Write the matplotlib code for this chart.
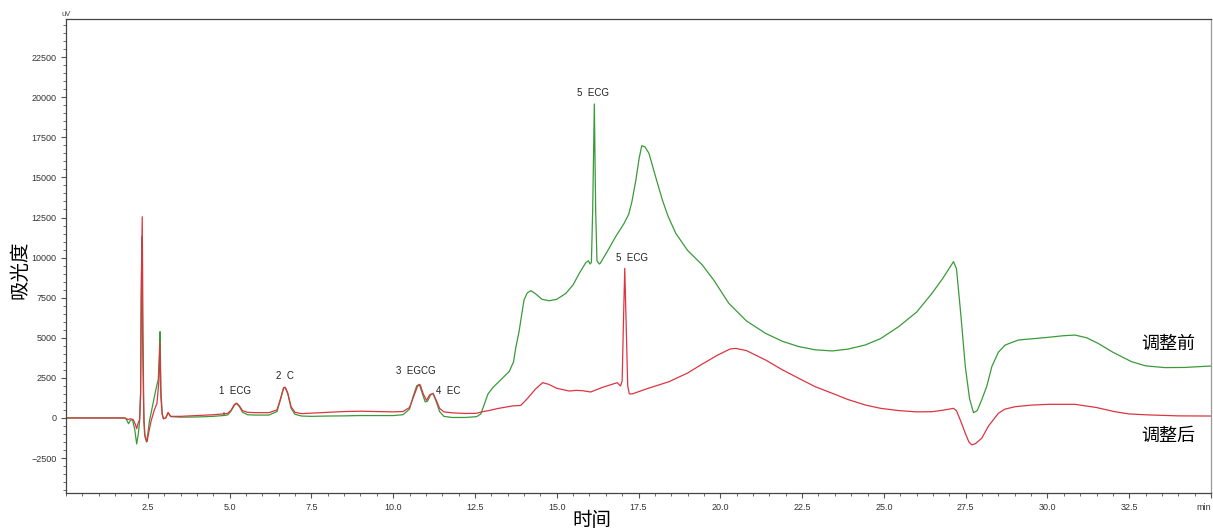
import numpy as np
import matplotlib
matplotlib.use("Agg")
import matplotlib.pyplot as plt
from matplotlib.ticker import MultipleLocator, FixedLocator, FixedFormatter

# chromatogram before adjustment (green) - time in min, signal in uV
green_t = [0.0, 1.0, 1.8, 1.85, 1.91, 1.97, 2.03, 2.10, 2.16, 2.21, 2.25, 2.28, 2.30, 2.32, 2.34,
           2.37, 2.40, 2.46, 2.50, 2.55, 2.65, 2.75, 2.82, 2.85, 2.875, 2.90, 2.94, 2.98, 3.05,
           3.12, 3.20, 3.5, 4.0, 4.5, 4.81, 4.83, 4.85, 4.95, 5.05, 5.15, 5.22, 5.30, 5.40, 5.55,
           5.8, 6.2, 6.45, 6.55, 6.65, 6.70, 6.78, 6.88, 7.0, 7.2, 7.5, 8.0, 8.5, 9.0, 9.5, 10.0,
           10.3, 10.5, 10.62, 10.72, 10.80, 10.88, 10.98, 11.05, 11.15, 11.22, 11.32, 11.42, 11.55,
           11.8, 12.2, 12.55, 12.68, 12.76, 12.9, 13.05, 13.15, 13.40, 13.55, 13.68, 13.75, 13.85,
           14.0, 14.1, 14.21, 14.35, 14.55, 14.77, 15.0, 15.28, 15.5, 15.69, 15.89, 15.97, 16.02,
           16.06, 16.10, 16.15, 16.19, 16.23, 16.30, 16.33, 16.55, 16.8, 17.05, 17.2, 17.3, 17.42,
           17.52, 17.6, 17.7, 17.82, 18.0, 18.23, 18.4, 18.64, 19.0, 19.45, 19.8, 20.26, 20.8,
           21.38, 21.9, 22.4, 22.9, 23.42, 23.9, 24.43, 24.9, 25.45, 26.0, 26.47, 26.8, 27.13,
           27.22, 27.35, 27.49, 27.62, 27.74, 27.85, 27.99, 28.15, 28.3, 28.5, 28.71, 29.11, 29.6,
           30.03, 30.5, 30.84, 31.2, 31.55, 32.0, 32.57, 33.0, 33.59, 34.2, 35.0]
green_uv = [0, 0, 0, -100, -360, -150, -100, -700, -1620, -1000, -200, 1500, 7600, 11300, 5000,
            1000, -1000, -1500, -1000, -200, 800, 1800, 2400, 3800, 5380, 1800, 300, -50, 0,
            320, 80, 50, 60, 100, 150, 280, 150, 200, 450, 800, 900, 700, 350, 200,
            180, 180, 400, 1100, 1850, 1900, 1500, 600, 230, 120, 100, 120, 130, 150, 150, 150,
            200, 550, 1400, 2000, 2100, 1600, 1000, 1050, 1450, 1530, 1000, 400, 100,
            30, 30, 80, 250, 700, 1500, 1900, 2100, 2600, 2900, 3500, 4400, 5400,
            7360, 7800, 7940, 7750, 7400, 7310, 7400, 7770, 8300, 9020, 9690, 9800, 9600,
            9700, 13000, 19580, 13000, 9800, 9600, 9640, 10400, 11300, 12100, 12700, 13500, 14840,
            16200, 16980, 16900, 16500, 15200, 13590, 12600, 11510, 10450, 9540, 8600, 7150, 6050,
            5280, 4780, 4450, 4250, 4180, 4290, 4550, 4950, 5690, 6600, 7770, 8700, 9750,
            9300, 6500, 3200, 1200, 330, 450, 1120, 2000, 3200, 4100, 4550, 4860, 4950,
            5030, 5130, 5170, 5000, 4650, 4100, 3510, 3250, 3140, 3150, 3240]

# chromatogram after adjustment (red)
red_t = [0.0, 1.8, 1.9, 1.97, 2.05, 2.12, 2.16, 2.21, 2.25, 2.28, 2.30, 2.33, 2.355, 2.38, 2.42,
         2.48, 2.53, 2.60, 2.70, 2.78, 2.84, 2.87, 2.90, 2.94, 2.98, 3.05, 3.12, 3.20, 3.5, 4.0,
         4.5, 4.81, 4.83, 4.85, 4.95, 5.05, 5.15, 5.22, 5.30, 5.40, 5.55, 5.8, 6.2, 6.45, 6.55,
         6.65, 6.70, 6.78, 6.88, 7.0, 7.2, 7.5, 8.0, 8.5, 9.0, 9.5, 10.0, 10.3, 10.5, 10.62,
         10.75, 10.83, 10.92, 11.02, 11.12, 11.22, 11.32, 11.42, 11.55, 11.8, 12.2, 12.55, 12.73,
         12.9, 13.2, 13.65, 13.9, 14.1, 14.35, 14.57, 14.75, 15.0, 15.38, 15.6, 15.79, 16.04,
         16.4, 16.7, 16.85, 16.95, 17.0, 17.04, 17.08, 17.12, 17.17, 17.22, 17.31, 17.8, 18.43,
         19.0, 19.35, 19.9, 20.3, 20.47, 20.8, 21.38, 21.9, 22.4, 22.9, 23.42, 23.9, 24.43, 24.9,
         25.45, 26.0, 26.47, 26.8, 27.13, 27.22, 27.35, 27.49, 27.6, 27.69, 27.8, 27.99, 28.2,
         28.5, 28.7, 29.01, 29.5, 30.03, 30.84, 31.5, 32.06, 32.5, 33.08, 34.0, 35.0]
red_uv = [0, 0, -100, -50, -100, -400, -670, -300, -100, 1500, 7600, 12550, 5200, -200, -1200,
          -1470, -900, -200, 500, 900, 2300, 4700, 1300, 200, -50, 0, 340, 100, 100, 150,
          200, 250, 330, 250, 300, 500, 850, 920, 750, 450, 350, 330, 330, 500, 1150,
          1880, 1920, 1550, 700, 350, 270, 300, 350, 400, 420, 400, 380, 400, 650, 1300,
          2000, 2060, 1500, 1100, 1450, 1530, 1100, 600, 380, 320, 280, 290, 390,
          450, 590, 750, 780, 1200, 1800, 2200, 2100, 1850, 1680, 1720, 1700, 1620,
          1910, 2100, 2200, 1990, 2300, 6000, 9330, 6000, 2000, 1500, 1500, 1850, 2260,
          2800, 3240, 3900, 4300, 4340, 4200, 3620, 3000, 2470, 1950, 1540, 1150, 810, 600,
          460, 380, 390, 480, 600, 450, -200, -960, -1500, -1680, -1600, -1270, -500,
          290, 550, 700, 800, 850, 850, 650, 390, 250, 190, 130, 120]

peak_labels = ["1  ECG", "2  C", "3  EGCG", "4  EC", "5  ECG", "5  ECG"]
peak_t = [5.16, 6.68, 10.68, 11.69, 16.11, 17.30]
peak_uv = [1680, 2620, 2930, 1680, 20260, 9975]

y_ticks = [-2500, 0, 2500, 5000, 7500, 10000, 12500, 15000, 17500, 20000, 22500]
x_ticks = [2.5, 5.0, 7.5, 10.0, 12.5, 15.0, 17.5, 20.0, 22.5, 25.0, 27.5, 30.0, 32.5, 35.0]
x_tick_labels = ["2.5", "5.0", "7.5", "10.0", "12.5", "15.0", "17.5", "20.0", "22.5",
                 "25.0", "27.5", "30.0", "32.5", "min"]

cjk = ["Noto Sans CJK SC", "DejaVu Sans"]
plt.rcParams["font.family"] = ["Liberation Sans", "DejaVu Sans"]

fig = plt.figure(figsize=(12.13, 5.32), dpi=100)
ax = fig.add_axes([66 / 1213, 1 - 493 / 532, 1145 / 1213, 474 / 532])

ax.plot(green_t, green_uv, color="#3a9a3a", lw=0.9)
ax.plot(red_t, red_uv, color="#dc3540", lw=0.9)

ax.set_xlim(0, 35)
ax.set_ylim(-4680, 24880)

ax.yaxis.set_major_locator(FixedLocator(y_ticks))
ax.yaxis.set_minor_locator(MultipleLocator(500))
ax.xaxis.set_major_locator(FixedLocator(x_ticks))
ax.xaxis.set_major_formatter(FixedFormatter(x_tick_labels))
ax.xaxis.set_minor_locator(MultipleLocator(0.5))
ax.tick_params(which="both", direction="out", colors="#555555", labelsize=6.5,
               labelcolor="#333333")
ax.tick_params(which="major", length=3.5, width=0.8)
ax.tick_params(which="minor", length=2.5, width=0.6)
# "min" sits at the right edge of the axis
ax.get_xticklabels()[-1].set_horizontalalignment("right")
for s in ax.spines.values():
    s.set_color("#444444")
    s.set_linewidth(0.9)
ax.spines["right"].set_color("#999999")

for lab, t, v in zip(peak_labels, peak_t, peak_uv):
    ax.text(t, v, lab, ha="center", va="center", fontsize=7, color="#222222")

ax.text(33.69, 4610, "调整前", family=cjk, fontsize=13, ha="center", va="center")
ax.text(33.69, -1120, "调整后", family=cjk, fontsize=13, ha="center", va="center")

fig.text(66 / 1213, 1 - 14 / 532, "uV", fontsize=5.5, color="#444444", ha="center", va="center")
fig.text(20 / 1213, 1 - 270 / 532, "吸光度", family=cjk, fontsize=14, rotation=90,
         ha="center", va="center")
fig.text(592 / 1213, 1 - 521 / 532, "时间", family=cjk, fontsize=14, ha="center", va="center")

fig.savefig("out.png", dpi=100)
